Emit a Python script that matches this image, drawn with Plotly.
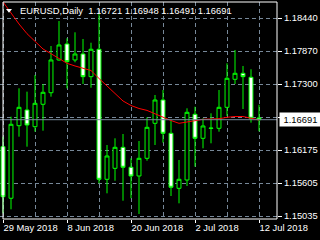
import plotly.graph_objects as go

symbol = "EURUSD,Daily"
dates = ["29 May 2018", "30 May 2018", "31 May 2018", "1 Jun 2018", "4 Jun 2018",
         "5 Jun 2018", "6 Jun 2018", "7 Jun 2018", "8 Jun 2018", "11 Jun 2018",
         "12 Jun 2018", "13 Jun 2018", "14 Jun 2018", "15 Jun 2018", "18 Jun 2018",
         "19 Jun 2018", "20 Jun 2018", "21 Jun 2018", "22 Jun 2018", "25 Jun 2018",
         "26 Jun 2018", "27 Jun 2018", "28 Jun 2018", "29 Jun 2018", "2 Jul 2018",
         "3 Jul 2018", "4 Jul 2018", "5 Jul 2018", "6 Jul 2018", "9 Jul 2018",
         "10 Jul 2018", "11 Jul 2018", "12 Jul 2018"]

opens = [1.16227, 1.15340, 1.16588, 1.16858, 1.16571, 1.16956, 1.17155, 1.17718,
         1.17993, 1.17718, 1.17821, 1.17431, 1.17902, 1.15666, 1.15855, 1.16216,
         1.15873, 1.15723, 1.16027, 1.16629, 1.17030, 1.16457, 1.15511, 1.15654,
         1.16784, 1.16371, 1.16540, 1.16543, 1.16904, 1.17386, 1.17489, 1.17420,
         1.16721]
highs = [1.16399, 1.16743, 1.17231, 1.17173, 1.17460, 1.17305, 1.17958, 1.18388,
         1.18091, 1.18194, 1.18079, 1.18015, 1.18521, 1.16256, 1.16371, 1.16445,
         1.16027, 1.16325, 1.16732, 1.17116, 1.17202, 1.16674, 1.15998, 1.16887,
         1.16915, 1.16715, 1.16801, 1.17202, 1.17661, 1.17890, 1.17615, 1.17558,
         1.16948]
lows = [1.15081, 1.15150, 1.16399, 1.16227, 1.16485, 1.16502, 1.17087, 1.17706,
        1.17231, 1.17678, 1.17305, 1.17241, 1.15597, 1.15425, 1.15642, 1.15298,
        1.15340, 1.15070, 1.15986, 1.16256, 1.16296, 1.15379, 1.15253, 1.15551,
        1.15883, 1.16199, 1.16285, 1.16485, 1.16755, 1.17305, 1.16875, 1.16640,
        1.16491]
closes = [1.15367, 1.16612, 1.16904, 1.16600, 1.16973, 1.17162, 1.17718, 1.17976,
          1.17689, 1.17821, 1.17431, 1.17902, 1.15666, 1.16067, 1.16216, 1.15873,
          1.15723, 1.16027, 1.16560, 1.17030, 1.16457, 1.15529, 1.15666, 1.16818,
          1.16371, 1.16583, 1.16546, 1.16904, 1.17403, 1.17489, 1.17431, 1.16715,
          1.16691]
ma_values = [1.18717, 1.18519, 1.18337, 1.18170, 1.18032, 1.17907, 1.17826, 1.17744,
             1.17661, 1.17615, 1.17578, 1.17537, 1.17400, 1.17274, 1.17150, 1.17013,
             1.16935, 1.16884, 1.16851, 1.16789, 1.16738, 1.16677, 1.16629, 1.16657,
             1.16674, 1.16698, 1.16703, 1.16708, 1.16732, 1.16746, 1.16746, 1.16715,
             1.16686]

x_tick_idx = [0, 8, 16, 24, 32]
x_grid_minor = [4, 12, 20, 28]
y_tick_vals = [1.15035, 1.156025, 1.1617, 1.167375, 1.17305, 1.178725, 1.1844]
y_tick_text = ["1.15035", "1.15605", "1.16175", "", "1.17300", "1.17870", "1.18440"]

idx = list(range(len(dates)))
GREEN = "#00ff00"
GRID = "#778899"
FONT = "Liberation Sans"
FS = 9.4
DASH = "4px,3px"

fig = go.Figure()
fig.add_trace(go.Candlestick(
    x=idx, open=opens, high=highs, low=lows, close=closes,
    increasing=dict(line=dict(color=GREEN, width=1), fillcolor="#000000"),
    decreasing=dict(line=dict(color=GREEN, width=1), fillcolor="#ffffff"),
    whiskerwidth=0, hoverinfo="skip"))
fig.add_trace(go.Scatter(x=idx, y=ma_values, mode="lines",
                         line=dict(color="#ff0000", width=1), hoverinfo="skip"))

W_PLOT = 277.0
H_PLOT = 217.0

fig.update_layout(
    width=320, height=240,
    margin=dict(l=0, r=43, t=2, b=21),
    paper_bgcolor="#000000", plot_bgcolor="#000000",
    showlegend=False,
    font=dict(family=FONT, size=FS, color="#ffffff"),
    xaxis=dict(
        range=[-0.375, 34.25], tickmode="array", tickvals=x_tick_idx,
        ticktext=[dates[i] for i in x_tick_idx],
        ticks="outside", ticklen=3, tickcolor="#ffffff",
        ticklabelposition="outside right",
        tickfont=dict(family=FONT, size=FS, color="#ffffff"),
        showgrid=True, gridcolor=GRID, griddash=DASH, gridwidth=1,
        zeroline=False, showline=False, rangeslider=dict(visible=False),
        minor=dict(tickmode="array", tickvals=x_grid_minor, showgrid=True,
                   gridcolor=GRID, griddash=DASH, ticks=""),
        fixedrange=True,
    ),
    yaxis=dict(
        side="right", range=[1.149834, 1.187151], tickmode="array",
        tickvals=y_tick_vals, ticktext=y_tick_text,
        ticks="outside", ticklen=4, tickcolor="#ffffff",
        tickfont=dict(family=FONT, size=FS, color="#ffffff"),
        showgrid=True, gridcolor=GRID, griddash=DASH, gridwidth=1,
        zeroline=False, showline=False, fixedrange=True,
    ),
)

# bid line
fig.add_shape(type="line", xref="paper", yref="y", x0=0, x1=1,
              y0=closes[-1], y1=closes[-1], line=dict(color=GRID, width=1))
# frame
fig.add_shape(type="rect", xref="paper", yref="paper", x0=3 / W_PLOT, x1=1,
              y0=0, y1=1, line=dict(color="#ffffff", width=1))
# menu triangle
def px(xp, yp):
    return xp / W_PLOT, 1 - (yp - 2) / H_PLOT
a, b, c = px(6, 9), px(12, 9), px(9, 12.7)
fig.add_shape(type="path", xref="paper", yref="paper",
              path=f"M {a[0]} {a[1]} L {b[0]} {b[1]} L {c[0]} {c[1]} Z",
              fillcolor="#ffffff", line=dict(color="#ffffff", width=0))

title = (f"{symbol}\u00a0\u00a0{opens[-1]:.5f} {highs[-1]:.5f} "
         f"{lows[-1]:.5f} {closes[-1]:.5f}")
fig.add_annotation(text=title, xref="paper", yref="paper", x=18 / W_PLOT,
                   y=px(0, 10.5)[1], xanchor="left", yanchor="middle",
                   showarrow=False, font=dict(family=FONT, size=FS, color="#ffffff"))
fig.add_annotation(text=f"{closes[-1]:.5f}", xref="paper", yref="y", x=1,
                   y=closes[-1], xanchor="left", yanchor="middle", xshift=2,
                   showarrow=False, bgcolor="#ffffff", borderpad=1, width=39,
                   font=dict(family=FONT, size=FS, color="#000000"))

fig.write_html("out.html")
